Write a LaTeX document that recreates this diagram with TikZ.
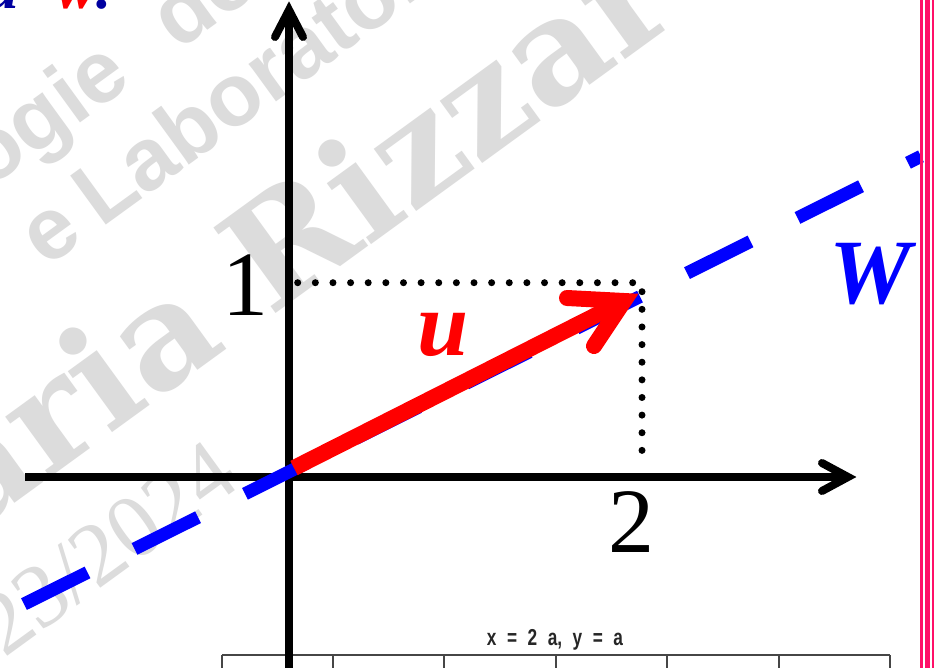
\documentclass[tikz,border=0pt]{standalone}
\usepackage{fontspec}
\setmainfont{Liberation Serif}
\newfontfamily\wmsans{Liberation Sans}
\newfontfamily\wmserif{DejaVu Serif}
\newfontfamily\tabfont[WordSpace=2.2]{Liberation Sans}
\definecolor{wmgray}{RGB}{220,220,220}
\definecolor{navyblue}{RGB}{0,0,160}
\definecolor{pureblue}{RGB}{0,0,255}
\definecolor{purered}{RGB}{255,0,0}
\definecolor{borderpink}{RGB}{255,16,104}
\definecolor{tabgray}{RGB}{70,70,70}
\begin{document}
\begin{tikzpicture}[x=1pt,y=-1pt,
  wm/.style={text=wmgray, inner sep=0pt, rotate=36},
  axisline/.style={line width=8pt, black},
  axishead/.style={line width=8pt, black, line cap=round, line join=miter},
  dotline/.style={line width=7pt, black, line cap=round, dash pattern=on 0pt off 17.63pt},
  bignum/.style={inner sep=0pt, font=\fontsize{92}{92}\selectfont, anchor=base},
  vlabel/.style={inner sep=0pt, anchor=base, font=\bfseries\itshape\fontsize{92}{92}\selectfont},
  tabline/.style={line width=1.4pt, tabgray},
  pinkline/.style={borderpink}]
\clip (0,0) rectangle (944,668);
\fill[white] (0,0) rectangle (944,668);

% watermark
\node[wm, anchor=base west, font=\wmsans\bfseries\fontsize{88}{88}\selectfont] (wm1) at (-12,190) {ogie delle};
\node[wm, anchor=base west, font=\wmsans\bfseries\fontsize{88}{88}\selectfont] (wm2) at (46,269) {\llap{o }e\hspace{0.22em}Laborator};
\node[wm, anchor=base west, font=\wmserif\bfseries\fontsize{145}{145}\selectfont] (wm3) at (270,318) {\llap{aria }Rizzar};
\node[wm, anchor=base east, font=\fontsize{90}{90}\selectfont] (wm4) at (243,485) {23/2024};

% top-left text
\node[inner sep=0pt, anchor=base west, font=\bfseries\itshape\fontsize{60}{60}\selectfont] (top) at (-15,9)
  {\textcolor{navyblue}{u}\hspace{38pt}\textcolor{purered}{w}\textcolor{navyblue}{.}};

% table
\coordinate (tl) at (222,655);
\coordinate (tr) at (890,655);
\draw[tabline] (tl) -- (tr);
\foreach \x in {222,333,444,556,667,779,890} \draw[tabline] (\x,655) -- (\x,670);
\node[inner sep=0pt, anchor=base, xscale=0.75, text=black!85, font=\tabfont\bfseries\fontsize{23}{23}\selectfont] (tabtitle) at (555,645) {x = 2 a, y = a};

% axes
\coordinate (O) at (289,477);
\coordinate (ytop) at (289,10);
\coordinate (ybot) at (289,672);
\coordinate (xleft) at (25,477);
\coordinate (xright) at (848,477);
\draw[axisline] (ybot) -- (ytop);
\draw[axisline] (xleft) -- (xright);
\draw[axishead] (275,37) -- (ytop) -- (303,37);
\draw[axishead] (822,463) -- (xright) -- (822,491);

% dotted projections
\draw[dotline] (297.7,282.7) -- (633.3,282.7);
\draw[dotline] (642,291.7) -- (642,467.5);

% blue dashed line W
\coordinate (wstart) at (24,604.1);
\coordinate (wend) at (921,156.3);
\draw[pureblue, line width=13pt, dash pattern=on 71pt off 52.5pt] (wstart) -- (wend);

% red vector u
\coordinate (ustart) at (294,468);
\coordinate (utip) at (624,301);
\draw[purered, line width=16pt] (ustart) -- (utip);
\draw[purered, line width=16pt, line cap=round, line join=miter] (567,298) -- (utip) -- (594,346);

% labels
\node[bignum] (one) at (245,315) {1};
\node[bignum] (two) at (631,552) {2};
\node[vlabel, text=purered] (ulab) at (443,355) {u};
\node[vlabel, text=pureblue] (wlab) at (870,303) {W};

% right border
\draw[pinkline, line width=2.5pt] (921.3,0) -- (921.3,668);
\draw[pinkline, line width=5pt] (927.5,0) -- (927.5,668);
\draw[pinkline, line width=2.5pt] (933,0) -- (933,668);
\end{tikzpicture}
\end{document}
